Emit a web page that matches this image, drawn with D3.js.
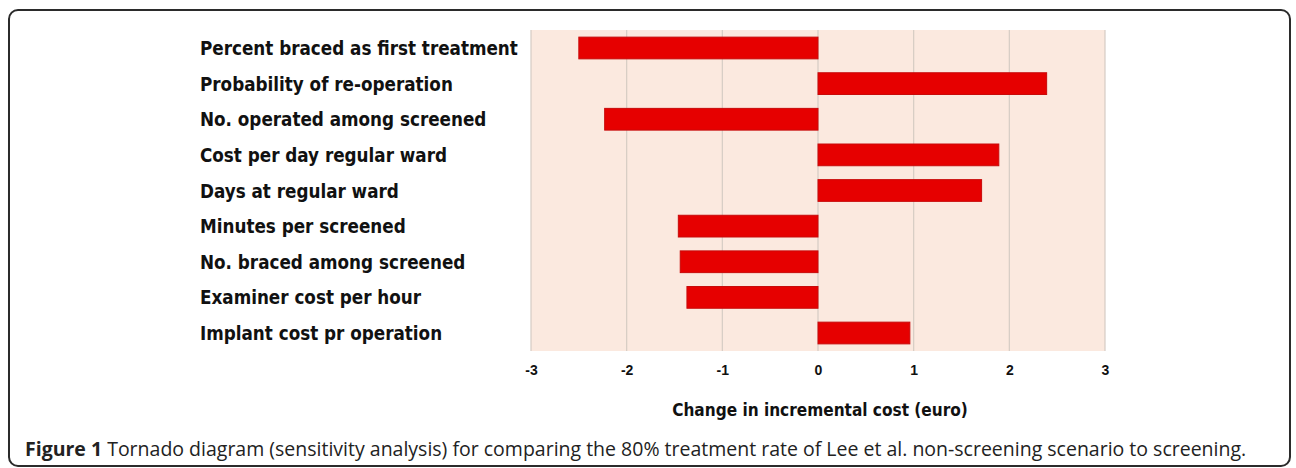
<!DOCTYPE html>
<html>
<head>
<meta charset="utf-8">
<script src="https://cdn.jsdelivr.net/npm/d3@7"></script>
<style>
  body { margin: 0; background: #fff; }
  svg { display: block; }
  .lab { font-family: "DejaVu Sans Condensed", "Liberation Sans Narrow", sans-serif; font-weight: bold; font-size: 20px; fill: #111; }
  .tick text { font-family: "Liberation Sans", Arial, sans-serif; font-weight: bold; font-size: 14px; fill: #111; }
  .caption { font-family: "Open Sans", "Noto Sans", sans-serif; font-size: 19.5px; fill: #222; }
</style>
</head>
<body>
<div class="chart"></div>
<script>
(function() {
  var width = 1296, height = 468;

  // data
  var categories = [
    "Percent braced as first treatment",
    "Probability of re-operation",
    "No. operated among screened",
    "Cost per day regular ward",
    "Days at regular ward",
    "Minutes per screened",
    "No. braced among screened",
    "Examiner cost per hour",
    "Implant cost pr operation"];
  var values = [-2.50, 2.39, -2.23, 1.89, 1.71, -1.46, -1.44, -1.37, 0.96];
  var tickValues = [-3, -2, -1, 0, 1, 2, 3];
  var axisTitle = "Change in incremental cost (euro)";
  var captionBold = "Figure 1";
  var captionText = " Tornado diagram (sensitivity analysis) for comparing the 80% treatment rate of Lee et al. non-screening scenario to screening.";

  var plot = {left: 531, right: 1105, top: 30, bottom: 351};

  var svg = d3.select(".chart").append("svg")
    .attr("width", width)
    .attr("height", height);

  // frame round the figure
  svg.append("rect")
    .attr("x", 9).attr("y", 10)
    .attr("width", 1281).attr("height", 456)
    .attr("rx", 9).attr("ry", 9)
    .attr("fill", "none")
    .attr("stroke", "#2b2b2b")
    .attr("stroke-width", 2);

  var x = d3.scaleLinear().domain([-3, 3]).range([plot.left, plot.right]);
  var y = d3.scaleBand().domain(categories).range([plot.top, plot.bottom]).paddingInner(0.39).paddingOuter(0.2);

  svg.append("rect")
    .attr("x", plot.left).attr("y", plot.top)
    .attr("width", plot.right - plot.left).attr("height", plot.bottom - plot.top)
    .attr("fill", "#fbe9df");

  // vertical gridlines
  svg.append("g").selectAll("line")
      .data(tickValues)
    .enter().append("line")
      .attr("x1", function(d) { return x(d); })
      .attr("x2", function(d) { return x(d); })
      .attr("y1", plot.top)
      .attr("y2", plot.bottom)
      .attr("stroke", "#d6ccc4")
      .attr("stroke-width", 1.2);

  // bars
  svg.append("g").selectAll("rect")
      .data(values)
    .enter().append("rect")
      .attr("x", function(d) { return x(Math.min(0, d)); })
      .attr("y", function(d, i) { return y(categories[i]); })
      .attr("width", function(d) { return Math.abs(x(d) - x(0)); })
      .attr("height", y.bandwidth())
      .attr("fill", "#e60000")
      .attr("stroke", "#c80a0a")
      .attr("stroke-width", 1);

  // category labels, squeezed sideways so the longest one ends at ~518
  var labels = svg.append("g").selectAll("text")
      .data(categories)
    .enter().append("text")
      .attr("class", "lab")
      .attr("x", 0)
      .attr("y", 0)
      .attr("dy", ".35em")
      .text(function(d) { return d; });
  var w0 = labels.nodes()[0].getComputedTextLength();
  var sx = 318 / w0;
  labels.attr("transform", function(d) {
    return "translate(200," + (y(d) + y.bandwidth() / 2) + ") scale(" + sx + ",1)";
  });

  // x axis (labels only)
  var xAxis = d3.axisBottom(x).tickValues(tickValues).tickSize(0).tickPadding(14).tickFormat(function(d) { return String(d); });
  var ax = svg.append("g").attr("transform", "translate(0," + plot.bottom + ")").call(xAxis);
  ax.select(".domain").remove();

  var title = svg.append("text")
    .attr("class", "lab")
    .attr("text-anchor", "middle")
    .style("font-size", "18px")
    .text(axisTitle);
  var tw = title.node().getComputedTextLength();
  title.attr("transform", "translate(" + (x(0) + 2) + ",416) scale(" + (296 / tw) + ",1)");

  var cap = svg.append("text")
    .attr("class", "caption")
    .attr("x", 25)
    .attr("y", 456);
  cap.append("tspan").style("font-weight", "bold").text(captionBold);
  cap.append("tspan").text(captionText);
})();
</script>
</body>
</html>
